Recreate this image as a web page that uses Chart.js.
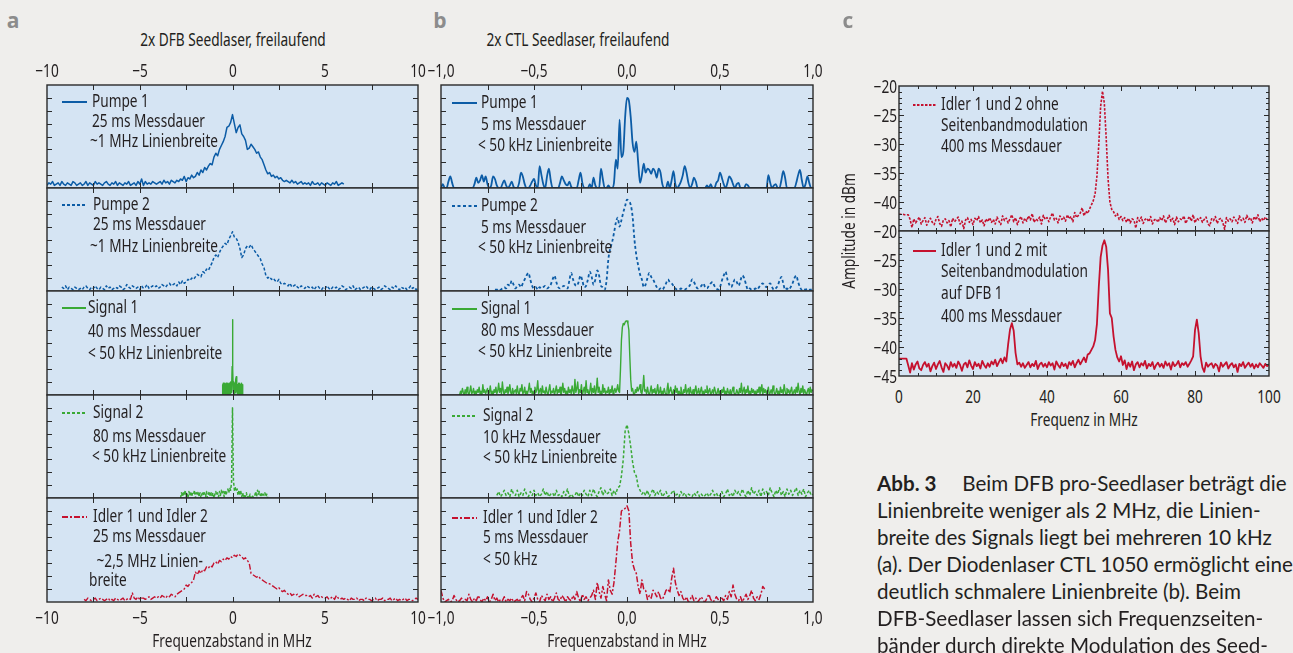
<!DOCTYPE html>
<html lang="de">
<head>
<meta charset="UTF-8">
<title>Linienbreiten Seedlaser</title>
<script src="https://cdn.jsdelivr.net/npm/chart.js"></script>
<style>
  html, body { margin: 0; padding: 0; background: #efeeec; }
  #page { position: relative; width: 1293px; height: 653px; overflow: hidden; color: #231f20;
          font-family: "Noto Sans", "Open Sans", sans-serif; font-size: 18px; }
  canvas { position: absolute; }
  .t { position: absolute; white-space: nowrap; line-height: 1; }
  .letter { font-family: "Open Sans", "Noto Sans", sans-serif; font-weight: 700; font-size: 21px; color: #8c8c8c; }
  .cap { font-family: "Lato", "Open Sans", sans-serif; font-size: 20px; color: #231f20; }
</style>
</head>
<body>
<div id="page"></div>
<script>
// ---------- data ----------
// panel a: frequency offset in MHz, relative amplitude 0..80
const pumpe1AStart = -10, pumpe1AStep = 0.1;
const pumpe1A = [2,4,3,5,2,3,4,2,5,3, 2,4,3,2,5,4,2,3,4,2, 3,5,2,4,3,2,5,3,4,3, 2,4,5,3,2,4,3,5,2,4,
  3,2,4,3,5,2,3,4,2,5, 3,7,2,5,3,4,3,5,4,3, 4,5,3,6,4,5,3,6,5,4, 6,5,7,6,9,5,8,7,10,8,
  9,12,10,14,12,16,14,17,19,18, 24,27,25,30,33,36,40,47,48,51, 57,50,43,47,49,42,40,37,30,31,
  34,32,30,27,28,24,22,18,14,11, 12,9,10,8,9,7,8,6,5,6, 5,4,6,4,5,3,4,5,3,4,
  3,4,2,5,3,3,4,2,4,3, 2,4,3,2,4,3,5,2,3,4, 3];

const pumpe2AStart = -9.2, pumpe2AStep = 0.1;
const pumpe2A = [3,2,4,1,3,2,1,3,2,1, 2,1,3,4,2,1,3,2,4,2, 1,3,2,1,4,2,3,1,2,3, 2,4,3,1,2,5,3,2,4,3,
  2,3,1,4,2,3,5,2,3,4, 3,4,2,3,5,4,3,5,6,4, 5,6,4,7,5,8,6,7,9,8, 10,9,11,13,12,11,15,14,17,16,
  19,22,26,28,26,30,33,35,37,36, 40,43,46,42,41,38,33,26,28,33, 35,34,36,33,31,29,27,25,21,18,
  12,10,11,9,10,8,7,9,6,5, 6,5,4,6,3,4,5,3,2,4, 3,2,4,3,2,3,1,3,4,2, 1,3,2,4,2,1,3,2,3,1,
  2,4,3,1,2,3,2,4,1,2, 3,1,2,3,4,2,1,3,2,1, 2,3,1,2,4,3,2,1,3,2, 4,2,1,3,2,3,1,2,4,2, 3,1,2];

const signal1AStart = -0.56, signal1AStep = 0.02;
const signal1A = [0,8,1,9,0,8,2,9,1,8, 0,9,1,8,0,9,2,8,0,9, 1,8,0,10,2,9,3,22,58,20,
  4,10,1,9,0,8,2,12,14,3, 9,1,8,0,9,2,8,0,9,1, 8,0,9,2,8,1,0];

const signal2AStart = -2.8, signal2AStep = 0.05;
const signal2A = [0,4,1,5,2,6,1,4,0,5, 2,5,1,4,3,6,0,4,2,5, 1,4,0,3,5,2,4,1,5,0, 3,5,1,4,2,4,0,3,5,2,
  4,1,5,2,6,3,5,1,6,2, 5,7,4,8,6,12,70,14,6,8, 5,7,2,6,3,5,1,4,0,3, 1,4,0,2,1,3,0,2,1,0,
  2,5,1,6,3,5,2,4,1,3, 2,4,1,3,0];

const idlerAStart = -8, idlerAStep = 0.1;
const idlerA = [2,1,3,2,1,2,3,1,2,3, 2,1,2,3,1,2,1,3,2,1, 2,3,1,2,3,2,7,3,2,4, 2,3,3,2,3,4,2,3,4,3,
  4,3,5,4,3,5,4,6,5,4, 6,7,8,9,10,13,12,14,15,17, 23,21,24,22,25,24,27,26,28,27, 30,31,29,32,31,33,32,34,33,35,
  34,36,35,37,36,35,33,34,32,30, 22,21,20,19,20,18,17,16,15,14, 14,13,12,11,10,11,9,8,9,7, 6,7,5,6,5,6,4,5,6,5,
  5,4,5,3,6,4,5,3,4,3, 3,4,2,3,4,2,5,3,2,3, 2,3,2,1,3,2,2,3,1,2, 2,1,3,2,2,1,2,3,1,2,
  2,3,1,2,2,3,1,2,3,1, 2,1,2,3,1,2,2,1,2,3, 2];

// panel b: frequency offset in MHz, relative amplitude 0..80
const pumpe1BStart = -1, pumpe1BStep = 0.01;
const pumpe1B = [0,3,0,0,5,9,4,0,0,0, 0,0,0,0,0,0,0,0,3,8, 4,6,10,5,9,3,0,2,9,7, 2,0,0,3,6,2,0,2,5,1,
  0,0,4,12,9,3,0,0,2,5, 7,2,0,17,10,3,0,9,15,6, 0,0,0,0,4,9,6,3,2,5, 1,0,0,0,6,12,4,0,0,0,
  3,0,8,2,0,0,15,7,0,0, 2,0,0,4,22,15,53,24,28,55, 70,68,55,35,28,36,20,4,10,19, 12,15,14,11,15,13,8,15,12,3,
  0,0,5,0,6,13,3,0,2,5, 10,17,12,4,0,3,8,5,0,0, 0,0,0,2,0,3,0,0,4,6, 12,8,3,0,4,9,7,3,0,3,
  4,0,0,0,3,2,0,0,0,0, 0,0,0,0,0,0,10,4,0,2, 3,0,0,6,13,8,0,0,0,0, 0,4,10,14,6,0,3,9,4,0, 0];

const pumpe2BStart = -0.71, pumpe2BStep = 0.01;
const pumpe2B = [1,1,2,1,2,3,2,5,4,8, 5,2,4,5,3,6,9,12,14,9, 4,2,3,1,3,2,3,4,2,3, 5,9,12,7,3,2,3,4,3,2,
  8,14,9,5,4,7,12,8,3,4, 9,15,11,5,9,16,12,4,3,1, 8,25,33,38,45,53,57,50,55,61, 66,71,70,67,58,40,28,20,13,9,
  3,5,10,14,11,9,6,3,1,2, 1,3,6,9,7,6,4,2,1,1, 2,1,1,2,3,5,9,7,4,2, 3,4,6,3,2,4,6,7,4,2,
  1,3,8,12,15,9,5,3,6,9, 7,4,8,12,10,5,1,2,1,1, 2,1,3,5,6,4,3,5,6,3, 1,2,4,8,11,6,1,2,1,3,
  6,10,12,7,3,1,2,1,2,1, 1,1];

const signal1BStart = -0.9, signal1BStep = 0.005;
const signal1B = [
  0,3,1,5,2,0,4,1,6,2,0,3,7,1,2,5,0,3,1,4,
  2,6,1,3,0,8,2,4,1,3,5,0,2,7,1,3,0,4,2,6,
  1,3,9,2,5,1,10,3,0,4,2,6,1,3,8,2,0,5,1,3,
  4,1,7,2,0,5,3,8,1,2,6,0,3,1,4,9,2,5,1,3,
  0,6,2,4,11,1,3,5,0,7,2,3,1,6,2,0,4,8,1,3,
  2,5,0,3,7,1,4,2,6,0,3,9,2,5,1,3,0,6,2,4,
  1,7,3,0,12,2,5,10,1,4,2,8,0,3,6,1,11,2,4,0,
  3,9,1,5,2,7,0,4,13,2,6,1,3,0,8,2,5,1,3,2,
  6,0,4,2,7,1,3,5,2,4,8,3,2,20,42,52,55,54,56,57,
  57,55,50,30,12,3,5,1,0,4,2,6,3,5,8,2,1,5,15,3,
  4,1,6,2,0,3,7,1,4,2,5,0,3,8,1,2,6,0,3,1,
  5,2,0,4,9,1,3,6,2,0,4,1,7,2,5,0,3,1,6,2,
  0,4,2,8,1,3,5,0,6,2,1,4,0,3,7,1,2,5,0,3,
  6,1,3,0,4,2,7,1,3,5,0,2,4,1,6,3,0,2,5,1,
  3,0,4,2,6,1,3,0,5,2,1,4,0,3,6,2,0,1,4,2,
  0,5,2,9,1,3,6,0,4,2,7,1,3,0,5,2,4,1,3,0,
  4,2,6,1,3,8,0,5,2,4,1,3,6,0,2,4,1,7,3,0,
  2,5,1,3,0,6,2,4,1,8,3,0,5,2,4,1,3,6,0,2,
  4,1,6,2,9,3,0,5,2,7,1,4,2,0,3,5,1,6,2,4,
  3];

const signal2BStart = -0.7, signal2BStep = 0.01;
const signal2B = [2,5,1,3,6,2,4,1,7,3, 2,6,1,4,2,7,3,1,5,2, 6,2,4,1,3,7,2,5,1,3, 4,1,6,2,3,1,5,2,7,1,
  3,1,2,5,1,4,2,6,3,1, 6,2,7,3,1,5,8,2,6,3, 4,7,2,6,3,8,9,17,30,52, 57,50,40,28,20,17,9,6,3,5,
  2,6,1,4,7,2,5,3,6,1, 3,5,1,2,4,6,2,3,1,5, 2,4,1,3,2,1,4,2,5,1, 3,1,2,4,1,3,6,2,4,1,
  2,5,1,3,7,2,4,1,6,3, 5,2,7,3,1,6,2,8,3,5, 2,6,1,7,3,5,2,8,4,1, 6,3,8,2,5,1,7,3,6,2,
  5,8,2,6,3,7,1,4,6,2, 3];

const idlerBStart = -1, idlerBStep = 0.01;
const idlerB = [9,3,0,1,2,0,1,5,2,0, 1,3,0,2,1,6,2,0,3,1, 5,2,0,3,1,4,0,2,6,1, 3,0,2,1,4,0,2,1,3,0,
  1,2,0,3,5,1,8,6,2,0, 3,7,2,0,5,3,1,6,2,4, 0,3,7,2,1,5,3,0,4,2, 1,5,2,8,3,0,6,2,4,1,
  3,5,9,2,15,8,3,12,6,1, 17,9,6,15,30,46,55,70,71,72, 74,70,45,30,25,22,12,6,17,10, 9,2,5,3,9,7,4,8,3,2,
  5,9,10,7,18,26,15,9,5,8, 3,1,4,0,2,5,1,3,0,2, 4,1,0,3,6,2,0,1,4,2, 0,3,1,5,2,8,4,13,6,2,
  1,4,0,3,6,2,5,9,3,1, 4,2,6,12,10];

// panel c: frequency in MHz, amplitude in dBm
const idlerOhneStart = 0, idlerOhneStep = 0.5;
const idlerOhne = [
  -42.1,-42.1,-42.1,-42.2,-42.2,-42.2,-43.0,-44.4,-42.9,-43.6, -43.1,-42.6,-43.8,-43.2,-42.7,-44.0,-43.3,-42.8,-43.5,-43.9,
  -43.0,-42.5,-43.7,-44.2,-43.1,-42.9,-43.6,-43.2,-44.3,-42.8, -43.4,-43.0,-42.6,-43.8,-43.3,-44.6,-43.1,-42.7,-43.5,-43.0,
  -43.9,-42.8,-43.2,-42.5,-43.6,-43.1,-44.1,-42.9,-43.4,-42.7, -43.5,-43.0,-43.8,-42.6,-43.3,-43.9,-42.4,-43.2,-42.8,-43.6,
  -42.9,-42.2,-43.4,-42.7,-43.9,-43.0,-42.5,-43.6,-42.8,-43.3, -42.4,-43.1,-42.0,-43.5,-42.9,-43.2,-42.6,-43.8,-42.3,-43.0,
  -42.7,-43.4,-42.5,-41.9,-43.1,-42.8,-43.6,-42.4,-43.0,-42.6, -43.3,-42.2,-42.9,-42.5,-43.4,-41.8,-42.7,-42.3,-41.9,-41.0,
  -42.4,-41.6,-42.0,-41.2,-40.5,-39.8,-38.6,-35.5,-30.0,-23.5, -20.9,-23.0,-29.0,-36.0,-40.0,-41.3,-41.7,-42.4,-42.0,-43.0,
  -42.5,-43.2,-42.7,-43.5,-42.8,-43.6,-42.9,-43.1,-44.5,-42.7, -43.3,-42.6,-43.7,-43.0,-42.8,-43.4,-42.5,-43.8,-43.1,-42.9,
  -43.5,-42.7,-43.2,-42.4,-43.6,-43.0,-42.3,-43.3,-42.8,-43.9, -42.6,-43.4,-42.9,-43.1,-42.4,-43.7,-43.0,-42.5,-43.3,-42.2,
  -43.6,-42.8,-43.1,-42.7,-43.5,-43.0,-42.6,-43.8,-44.1,-42.9, -43.2,-42.5,-43.7,-43.0,-42.8,-43.5,-44.7,-42.7,-43.3,-42.9,
  -43.4,-42.6,-43.1,-43.7,-42.4,-43.2,-42.8,-43.5,-42.3,-43.0, -42.7,-43.6,-42.5,-43.1,-42.2,-43.4,-42.8,-43.2,-42.6,-43.0,
  -42.7];

const idlerMitStart = 0, idlerMitStep = 0.5;
const idlerMit = [
  -42.0,-42.0,-42.0,-42.0,-42.0,-43.2,-44.4,-42.8,-43.9,-43.0, -42.5,-43.7,-44.0,-43.1,-42.6,-43.4,-42.9,-44.2,-43.3,-42.7,
  -43.8,-43.0,-42.4,-43.5,-44.3,-42.8,-43.2,-43.9,-42.6,-43.4, -42.9,-43.6,-42.5,-43.1,-44.1,-43.0,-42.7,-43.5,-42.3,-43.2,
  -43.8,-42.6,-43.3,-42.9,-43.7,-42.4,-43.1,-43.6,-42.8,-43.4, -42.5,-43.0,-42.2,-43.3,-42.6,-42.0,-42.8,-41.8,-42.5,-39.5,
  -37.0,-35.9,-37.2,-41.0,-43.0,-42.7,-43.4,-42.8,-43.6,-43.1, -42.6,-43.5,-42.9,-43.3,-42.4,-43.8,-43.0,-42.7,-43.4,-42.9,
  -43.5,-42.6,-43.2,-42.8,-43.9,-42.5,-43.1,-43.6,-42.7,-43.3, -42.9,-43.7,-42.6,-43.1,-42.4,-43.5,-42.8,-42.2,-43.0,-42.4,
  -41.8,-42.6,-41.3,-41.1,-40.5,-39.9,-38.8,-36.0,-29.6,-24.5, -22.5,-21.6,-22.7,-26.7,-34.2,-35.0,-38.2,-40.5,-41.8,-42.5,
  -41.6,-43.1,-42.3,-43.8,-42.7,-43.4,-42.5,-44.0,-43.0,-42.6, -43.5,-42.8,-43.2,-42.4,-43.7,-42.9,-43.3,-42.6,-43.8,-43.1,
  -42.7,-43.4,-42.9,-43.6,-42.5,-43.2,-42.8,-43.9,-42.6,-43.3, -43.0,-42.4,-43.5,-42.8,-43.1,-42.6,-43.4,-42.9,-42.3,-41.6,
  -37.1,-35.3,-37.6,-41.6,-43.5,-44.3,-42.7,-43.4,-43.0,-42.8, -43.6,-42.9,-43.2,-44.2,-42.7,-43.4,-43.0,-42.6,-43.7,-43.1,
  -42.8,-43.5,-43.0,-44.3,-42.9,-43.3,-42.6,-43.6,-43.1,-42.7, -43.4,-42.9,-43.7,-43.0,-43.5,-42.8,-43.2,-43.6,-42.9,-43.3,
  -43.0];

// tick labels
const ticksA = [-10, -5, 0, 5, 10];
const ticksB = [-1, -0.5, 0, 0.5, 1];
const ticksC = [0, 20, 40, 60, 80, 100];
const dbTicksTop = [-20, -25, -30, -35, -40];
const dbTicksBottom = [-20, -25, -30, -35, -40, -45];

// ---------- styling ----------
const BLUE = '#0c5ca6', GREEN = '#3aa935', RED = '#c5112e';
const PLOT_BG = '#d5e4f3', AXIS = '#2a2a2a', TEXT = '#231f20';
const LABEL_FONT = '"Noto Sans", "Open Sans", sans-serif';
const LABEL_SIZE = 18;

// the reference uses a condensed face: squeeze a normal one horizontally
const measure = document.createElement('canvas').getContext('2d');
measure.font = LABEL_SIZE + 'px ' + LABEL_FONT;
const SQUEEZE = 113 / measure.measureText('25 ms Messdauer').width;

function range(a, b, s) { const r = []; for (let v = a; v <= b + 1e-9; v += s) r.push(+v.toFixed(4)); return r; }

const PANELS = {
  a: { x: [47, 418], rows: [85, 188, 291, 395, 498, 602], min: -10, max: 10, ymin: 0, ymax: 80,
       xMajor: range(-7.5, 7.5, 2.5), xMinor: [], yMajor: range(10, 70, 10), yMinor: [] },
  b: { x: [441, 813], rows: [85, 188, 291, 395, 498, 602], min: -1, max: 1, ymin: 0, ymax: 80,
       xMajor: range(-0.75, 0.75, 0.25), xMinor: [], yMajor: range(10, 70, 10), yMinor: [] },
  c: { x: [899, 1269], rows: [86, 231, 376], min: 0, max: 100, ymin: -45, ymax: -20,
       xMajor: [20, 40, 60, 80], xMinor: range(5, 95, 5).filter(v => v % 20),
       yMajor: [-40, -35, -30, -25], yMinor: range(-44, -21, 1).filter(v => v % 5) }
};

const plots = [
  { panel: 'a', row: 0, vals: pumpe1A, start: pumpe1AStart, step: pumpe1AStep, color: BLUE, width: 1.5, dash: [],
    legend: { line: [15, 40], tx: [45, 45, 43], ys: [17, 37, 57], lines: ['Pumpe 1', '25 ms Messdauer', '~1 MHz Linienbreite'] } },
  { panel: 'a', row: 1, vals: pumpe2A, start: pumpe2AStart, step: pumpe2AStep, color: BLUE, width: 1.5, dash: [3, 2],
    legend: { line: [15, 40], tx: [46, 46, 43], ys: [17, 37, 59], lines: ['Pumpe 2', '25 ms Messdauer', '~1 MHz Linienbreite'] } },
  { panel: 'a', row: 2, vals: signal1A, start: signal1AStart, step: signal1AStep, color: GREEN, width: 1.4, dash: [],
    legend: { line: [15, 39], tx: [41, 41, 41], ys: [17, 41, 63], lines: ['Signal 1', '40 ms Messdauer', '< 50 kHz Linienbreite'] } },
  { panel: 'a', row: 3, vals: signal2A, start: signal2AStart, step: signal2AStep, color: GREEN, width: 1.5, dash: [3, 2],
    legend: { line: [15, 40], tx: [46, 46, 45], ys: [18, 42, 62], lines: ['Signal 2', '80 ms Messdauer', '< 50 kHz Linienbreite'] } },
  { panel: 'a', row: 4, vals: idlerA, start: idlerAStart, step: idlerAStep, color: RED, width: 1.4, dash: [6, 2, 2, 2],
    legend: { line: [15, 40], tx: [46, 46, 46, 42], ys: [19, 39, 64, 83], lines: ['Idler 1 und Idler 2', '25 ms Messdauer', ' ~2,5 MHz Linien-', 'breite'] } },

  { panel: 'b', row: 0, vals: pumpe1B, start: pumpe1BStart, step: pumpe1BStep, color: BLUE, width: 1.8, dash: [], smooth: true,
    legend: { line: [11, 36], tx: [40, 40, 37], ys: [18, 40, 61], lines: ['Pumpe 1', '5 ms Messdauer', '< 50 kHz Linienbreite'] } },
  { panel: 'b', row: 1, vals: pumpe2B, start: pumpe2BStart, step: pumpe2BStep, color: BLUE, width: 1.8, dash: [3, 2.5], smooth: true,
    legend: { line: [11, 36], tx: [40, 40, 37], ys: [18, 40, 60], lines: ['Pumpe 2', '5 ms Messdauer', '< 50 kHz Linienbreite'] } },
  { panel: 'b', row: 2, vals: signal1B, start: signal1BStart, step: signal1BStep, color: GREEN, width: 1.4, dash: [],
    legend: { line: [11, 36], tx: [40, 40, 37], ys: [18, 40, 61], lines: ['Signal 1', '80 ms Messdauer', '< 50 kHz Linienbreite'] } },
  { panel: 'b', row: 3, vals: signal2B, start: signal2BStart, step: signal2BStep, color: GREEN, width: 1.5, dash: [3, 2],
    legend: { line: [11, 36], tx: [42, 42, 42], ys: [21, 43, 63], lines: ['Signal 2', '10 kHz Messdauer', '< 50 kHz Linienbreite'] } },
  { panel: 'b', row: 4, vals: idlerB, start: idlerBStart, step: idlerBStep, color: RED, width: 1.5, dash: [6, 2, 2, 2],
    legend: { line: [11, 36], tx: [42, 42, 42], ys: [20, 40, 62], lines: ['Idler 1 und Idler 2', '5 ms Messdauer', '< 50 kHz'] } },

  { panel: 'c', row: 0, vals: idlerOhne, start: idlerOhneStart, step: idlerOhneStep, color: RED, width: 1.6, dash: [2.5, 1.5],
    legend: { line: [14, 37], tx: [42, 42, 42], ys: [19, 40, 61], lines: ['Idler 1 und 2 ohne', 'Seitenbandmodulation', '400 ms Messdauer'] } },
  { panel: 'c', row: 1, vals: idlerMit, start: idlerMitStart, step: idlerMitStep, color: RED, width: 1.8, dash: [],
    legend: { line: [14, 37], tx: [42, 42, 42, 42], ys: [20, 41, 63, 86], lines: ['Idler 1 und 2 mit', 'Seitenbandmodulation', 'auf DFB 1', '400 ms Messdauer'] } }
];

// ---------- helpers ----------
const page = document.getElementById('page');

function series(start, step, vals) {
  return vals.map((v, i) => ({ x: +(start + i * step).toFixed(4), y: v }));
}

function addText(txt, x, y, align, cls, noSqueeze) {
  const d = document.createElement('div');
  d.className = 't' + (cls ? ' ' + cls : '');
  d.textContent = txt;
  d.style.left = x + 'px';
  d.style.top = y + 'px';
  const tx = align === 'right' ? '-100%' : align === 'left' ? '0' : '-50%';
  d.style.transformOrigin = (align === 'right' ? 'right' : align === 'left' ? 'left' : 'center') + ' center';
  d.style.transform = 'translate(' + tx + ', -50%)' + (noSqueeze ? '' : ' scaleX(' + SQUEEZE + ')');
  page.appendChild(d);
  return d;
}

function framePlugin(P, L) {
  return {
    id: 'frame',
    beforeDatasetsDraw(chart) {
      const { ctx, chartArea: a } = chart;
      ctx.save();
      ctx.fillStyle = PLOT_BG;
      ctx.fillRect(a.left, a.top, a.right - a.left, a.bottom - a.top);
      ctx.restore();
    },
    afterDatasetsDraw(chart) {
      const { ctx, chartArea: a, scales } = chart;
      ctx.save();
      ctx.strokeStyle = AXIS;
      ctx.lineWidth = 1;
      ctx.beginPath();
      const xt = (list, len) => list.forEach(v => {
        const X = Math.round(scales.x.getPixelForValue(v)) + 0.5;
        ctx.moveTo(X, a.top); ctx.lineTo(X, a.top + len);
        ctx.moveTo(X, a.bottom); ctx.lineTo(X, a.bottom - len);
      });
      const yt = (list, len) => list.forEach(v => {
        const Y = Math.round(scales.y.getPixelForValue(v)) + 0.5;
        ctx.moveTo(a.left, Y); ctx.lineTo(a.left + len, Y);
        ctx.moveTo(a.right, Y); ctx.lineTo(a.right - len, Y);
      });
      xt(P.xMajor, 5); xt(P.xMinor, 3);
      yt(P.yMajor, 5); yt(P.yMinor, 3);
      ctx.stroke();
      ctx.lineWidth = 1.4;
      ctx.strokeRect(a.left, a.top, a.right - a.left, a.bottom - a.top);

      // legend entry
      const ds = chart.data.datasets[0];
      ctx.strokeStyle = ds.borderColor;
      ctx.lineWidth = 2;
      ctx.setLineDash(ds.borderDash);
      ctx.beginPath();
      ctx.moveTo(a.left + L.line[0], a.top + L.ys[0]);
      ctx.lineTo(a.left + L.line[1], a.top + L.ys[0]);
      ctx.stroke();
      ctx.setLineDash([]);
      ctx.fillStyle = TEXT;
      ctx.font = LABEL_SIZE + 'px ' + LABEL_FONT;
      ctx.textBaseline = 'middle';
      L.lines.forEach((t, i) => {
        ctx.save();
        ctx.translate(a.left + L.tx[i], a.top + L.ys[i]);
        ctx.scale(SQUEEZE, 1);
        ctx.fillText(t, 0, 0);
        ctx.restore();
      });
      ctx.restore();
    }
  };
}

// ---------- build the twelve sub-plots ----------
const M = 4;
plots.forEach(p => {
  const P = PANELS[p.panel];
  const x0 = P.x[0], x1 = P.x[1], y0 = P.rows[p.row], y1 = P.rows[p.row + 1];
  const cv = document.createElement('canvas');
  cv.width = x1 - x0 + 2 * M;
  cv.height = y1 - y0 + 2 * M;
  cv.style.left = (x0 - M) + 'px';
  cv.style.top = (y0 - M) + 'px';
  page.appendChild(cv);
  p.offset = [x0 - M, y0 - M];
  p.chart = new Chart(cv, {
    type: 'line',
    data: {
      datasets: [{
        data: series(p.start, p.step, p.vals),
        borderColor: p.color,
        borderWidth: p.width,
        borderDash: p.dash,
        borderJoinStyle: 'round',
        pointRadius: 0,
        fill: false,
        tension: p.smooth ? 0.4 : 0,
        cubicInterpolationMode: p.smooth ? 'monotone' : 'default'
      }]
    },
    options: {
      responsive: false,
      animation: false,
      events: [],
      layout: { padding: M },
      scales: {
        x: { type: 'linear', min: P.min, max: P.max, display: false },
        y: { type: 'linear', min: P.ymin, max: P.ymax, display: false }
      },
      plugins: { legend: { display: false }, tooltip: { enabled: false } }
    },
    plugins: [framePlugin(P, p.legend)]
  });
});

function xPix(p, v) { return p.offset[0] + p.chart.scales.x.getPixelForValue(v); }
function yPix(p, v) { return p.offset[1] + p.chart.scales.y.getPixelForValue(v); }
const plotOf = (panel, row) => plots.find(p => p.panel === panel && p.row === row);

const fmtA = v => String(v).replace('-', '\u2212');
const fmtB = v => v.toFixed(1).replace('.', ',').replace('-', '\u2212');

// ---------- axis labels and titles ----------
ticksA.forEach(v => {
  addText(fmtA(v), xPix(plotOf('a', 0), v), 70);
  addText(fmtA(v), xPix(plotOf('a', 4), v), 617);
});
ticksB.forEach(v => {
  addText(fmtB(v), xPix(plotOf('b', 0), v), 70);
  addText(fmtB(v), xPix(plotOf('b', 4), v), 617);
});
ticksC.forEach(v => addText(String(v), xPix(plotOf('c', 1), v), 396));
dbTicksTop.forEach(v => addText(fmtA(v), 897, yPix(plotOf('c', 0), v), 'right'));
dbTicksBottom.forEach(v => addText(fmtA(v), 897, yPix(plotOf('c', 1), v), 'right'));

addText('2x DFB Seedlaser, freilaufend', 233, 39);
addText('2x CTL Seedlaser, freilaufend', 578, 39);
addText('Frequenzabstand in MHz', 232, 640);
addText('Frequenzabstand in MHz', 627, 640);
addText('Frequenz in MHz', 1084, 419);
const amp = addText('Amplitude in dBm', 848, 231);
amp.style.transform = 'translate(-50%, -50%) rotate(-90deg) scaleX(' + SQUEEZE + ')';

addText('a', 13, 20, 'center', 'letter', true);
addText('b', 440, 20, 'center', 'letter', true);
addText('c', 848, 20, 'center', 'letter', true);

// ---------- caption ----------
const caption = [
  '<b>Abb. 3</b>&ensp;&ensp; Beim DFB pro-Seedlaser beträgt die',
  'Linienbreite weniger als 2 MHz, die Linien-',
  'breite des Signals liegt bei mehreren 10 kHz',
  '(a). Der Diodenlaser CTL 1050 ermöglicht eine',
  'deutlich schmalere Linienbreite (b). Beim',
  'DFB-Seedlaser lassen sich Frequenzseiten-',
  'bänder durch direkte Modulation des Seed-'
];
const capDivs = caption.map((html, i) => {
  const d = addText('', 877, 483 + i * 27, 'left', 'cap', true);
  d.innerHTML = html;
  return d;
});
const fit = 416 / capDivs[3].getBoundingClientRect().width;
capDivs.forEach(d => { d.style.fontSize = (20 * fit).toFixed(2) + 'px'; });
</script>
</body>
</html>
